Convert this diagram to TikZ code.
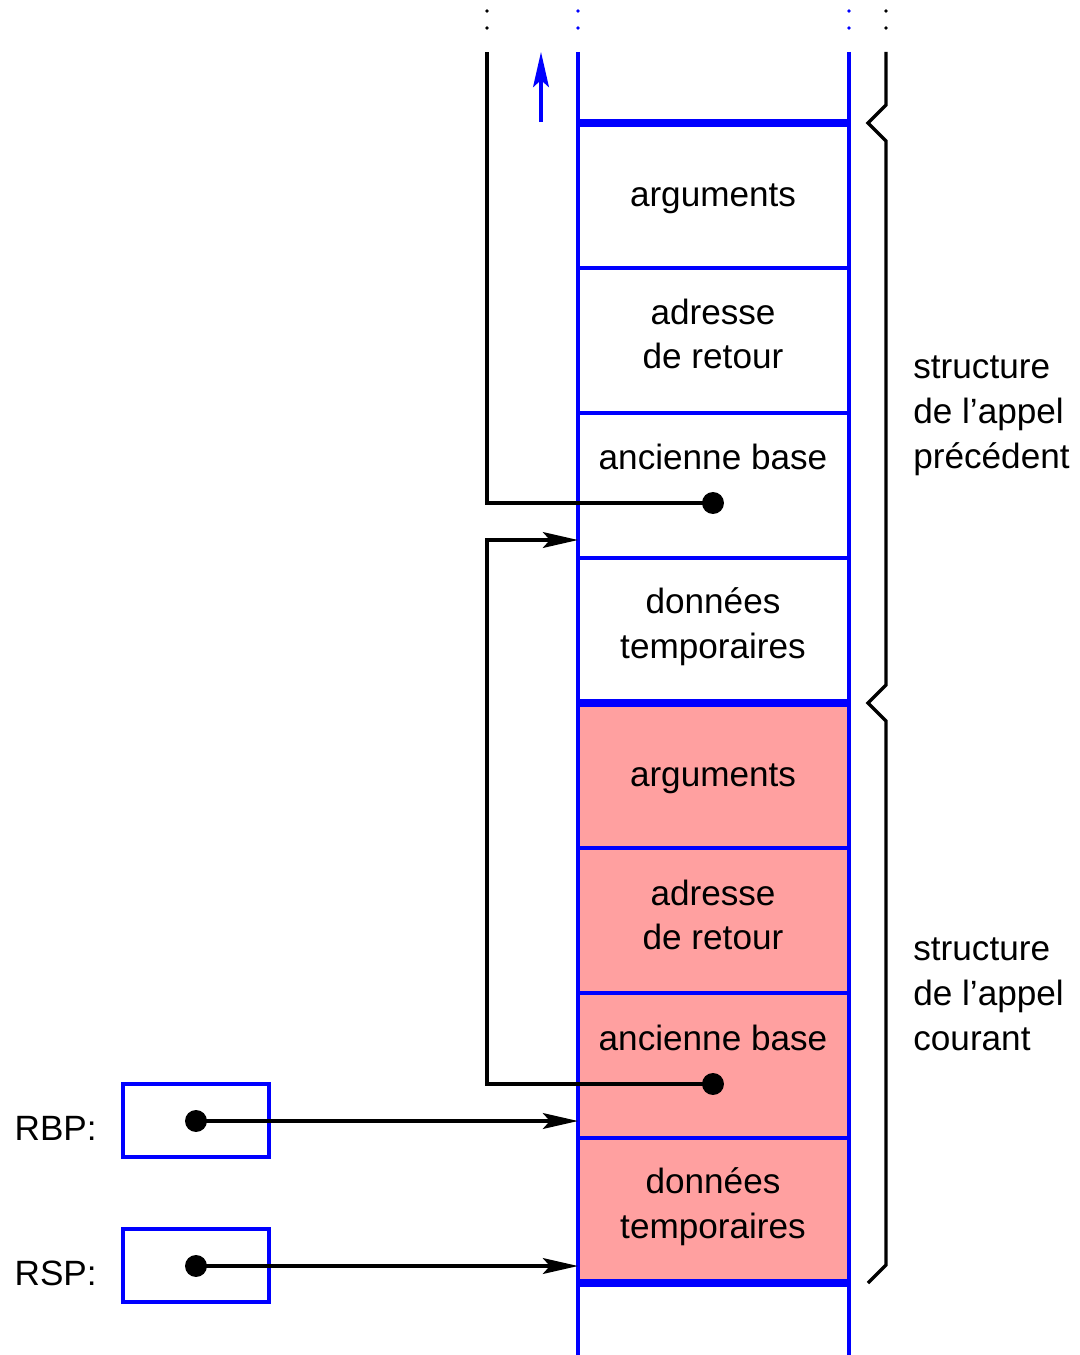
\documentclass[tikz,border=0pt]{standalone}
\usepackage{fontspec}
\setmainfont{Liberation Sans}
\usetikzlibrary{arrows.meta}
\definecolor{cellred}{RGB}{255,160,160}
\begin{document}
\begin{tikzpicture}[x=0.02cm,y=-0.02cm,
  txt/.style={font=\fontsize{20}{25.5}\selectfont,align=center,inner sep=0pt},
  lbl/.style={font=\fontsize{20}{25.5}\selectfont,align=left,inner sep=0pt},
  thinblue/.style={blue,line width=1.9pt},
  thickblue/.style={blue,line width=4.2pt},
  blk/.style={black,line width=1.9pt},
  tip/.style={-{Stealth[length=20pt,width=9pt,inset=4pt]}},
  pdot/.style={circle,fill=black,inner sep=0pt,minimum size=12.5pt},
  regbox/.style={draw=blue,line width=1.9pt,minimum width=146*0.02cm,minimum height=73*0.02cm,inner sep=0pt}]
\useasboundingbox (0,0) rectangle (1079,1355);
% red fill of current frame
\fill[cellred] (578,703) rectangle (849,1283);
% stack side lines
\draw[thinblue] (578,52) -- (578,1355);
\draw[thinblue] (849,52) -- (849,1355);
% cell dividers
\foreach \y in {268,413,558,848,993,1138}
  \draw[thinblue] (578,\y) -- (849,\y);
\foreach \y in {123,703,1283}
  \draw[thickblue] (578,\y) -- (849,\y);
% continuation dots
\foreach \x/\c in {487/black,578/blue,849/blue,886/black}
  \foreach \y in {11,28}
    \fill[\c] (\x,\y) circle (1.9);
% cell texts
\node[txt] (a1) at (713,199) {arguments};
\node[txt] (r1) at (713,334) {adresse\\de retour};
\node[txt] (b1) at (713,457) {ancienne base};
\node[txt] (t1) at (713,627) {données\\temporaires};
\node[txt] (a2) at (713,779) {arguments};
\node[txt] (r2) at (713,915) {adresse\\de retour};
\node[txt] (b2) at (713,1038) {ancienne base};
\node[txt] (t2) at (713,1207) {données\\temporaires};
% pointer dots
\node[pdot] (d1) at (713,503) {};
\node[pdot] (d2) at (713,1084) {};
% targets
\coordinate (top1) at (487,52);
\coordinate (tgt1) at (578,540);
\coordinate (tgtbp) at (578,1121);
\coordinate (tgtsp) at (578,1266);
% saved base pointer links
\draw[blk] (d1.center) -| (top1);
\draw[blk,tip] (d2.center) -| (487,540) -- (tgt1);
% growth arrow
\coordinate (ga0) at (541,122);
\coordinate (ga1) at (541,52);
\draw[thinblue,-{Stealth[length=20pt,width=9pt,inset=4pt]}] (ga0) -- (ga1);
% registers
\node[regbox] (rbp) at (196,1120.5) {};
\node[regbox] (rsp) at (196,1265.5) {};
\node[txt,anchor=east] (rbpl) at (97,1128) {RBP:};
\node[txt,anchor=east] (rspl) at (97,1273) {RSP:};
\node[pdot] (pbp) at (196,1121) {};
\node[pdot] (psp) at (196,1266) {};
\draw[blk,tip] (pbp.center) -- (tgtbp);
\draw[blk,tip] (psp.center) -- (tgtsp);
% braces
\draw[blk,line join=miter] (886,52) -- (886,105) -- (868,123) -- (886,141) -- (886,685) -- (868,703) -- (886,721) -- (886,1265) -- (868,1283);
\node[lbl,anchor=west] (s1) at (913,416) {structure\\de l’appel\\précédent};
\node[lbl,anchor=west] (s2) at (913,994) {structure\\de l’appel\\courant};
\end{tikzpicture}
\end{document}
